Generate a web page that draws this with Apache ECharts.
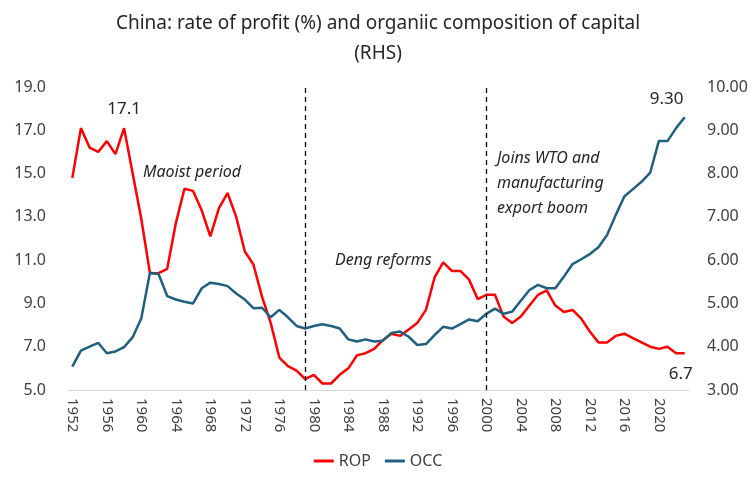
<!DOCTYPE html>
<html>
<head>
<meta charset="utf-8">
<script src="https://cdn.jsdelivr.net/npm/echarts@6/dist/echarts.min.js"></script>
<style>
  html, body { margin: 0; padding: 0; background: #fff; }
  #main { width: 756px; height: 477px; }
</style>
</head>
<body>
<div id="main"></div>
<script>
var years = [];
for (var y = 1952; y <= 2023; y++) years.push(String(y));

// rate of profit (%), left axis
var rop = [
  14.8, 17.1, 16.2, 16.0, 16.5, 15.9, 17.1, 15.0, 12.9, 10.4,
  10.4, 10.6, 12.7, 14.3, 14.2, 13.3, 12.1, 13.4, 14.1, 13.0,
  11.4, 10.8, 9.3, 8.1, 6.5, 6.1, 5.9, 5.5, 5.7, 5.3,
  5.3, 5.7, 6.0, 6.6, 6.7, 6.9, 7.3, 7.6, 7.5, 7.8,
  8.1, 8.7, 10.2, 10.9, 10.5, 10.5, 10.1, 9.2, 9.4, 9.4,
  8.4, 8.1, 8.4, 8.9, 9.4, 9.6, 8.9, 8.6, 8.7, 8.3,
  7.7, 7.2, 7.2, 7.5, 7.6, 7.4, 7.2, 7.0, 6.9, 7.0,
  6.7, 6.7
];

// organic composition of capital, right axis
var occ = [
  3.54, 3.91, 4.00, 4.09, 3.85, 3.89, 3.99, 4.22, 4.66, 5.71,
  5.68, 5.17, 5.09, 5.04, 5.00, 5.35, 5.48, 5.45, 5.40, 5.23,
  5.09, 4.89, 4.90, 4.68, 4.85, 4.68, 4.48, 4.42, 4.48, 4.52,
  4.48, 4.42, 4.17, 4.12, 4.17, 4.12, 4.14, 4.32, 4.35, 4.23,
  4.04, 4.06, 4.27, 4.46, 4.42, 4.52, 4.63, 4.59, 4.76, 4.88,
  4.76, 4.81, 5.06, 5.31, 5.43, 5.35, 5.35, 5.62, 5.91, 6.02,
  6.14, 6.30, 6.58, 7.04, 7.47, 7.64, 7.81, 8.02, 8.75, 8.75,
  9.05, 9.30
];

var eraLines = ['1979', '2000'];

var notes = [
  { text: 'Maoist period', x: 143, y: 160 },
  { text: 'Deng reforms', x: 335, y: 248 },
  { text: 'Joins WTO and\nmanufacturing\nexport boom', x: 497, y: 146 }
];

var chart = echarts.init(document.getElementById('main'));

var ropData = rop.map(function (v, i) {
  if (years[i] === '1958') {
    return { value: v, label: { show: true, position: 'top', distance: 10, formatter: '17.1' } };
  }
  if (i === rop.length - 1) {
    return { value: v, label: { show: true, position: 'bottom', distance: 12, offset: [-4, 0], formatter: '6.7' } };
  }
  return v;
});

var occData = occ.map(function (v, i) {
  if (i === occ.length - 1) {
    return { value: v, label: { show: true, position: 'top', distance: 10, offset: [-18, 0], formatter: '9.30' } };
  }
  return v;
});

var option = {
  backgroundColor: '#fff',
  textStyle: { fontFamily: 'Noto Sans' },
  title: {
    text: 'China: rate of profit (%) and organiic composition of capital\n(RHS)',
    left: 'center',
    top: 4,
    textStyle: { fontSize: 19, fontWeight: 'normal', color: '#262626', lineHeight: 30 }
  },
  legend: {
    bottom: 3,
    left: 'center',
    icon: 'rect',
    itemWidth: 20,
    itemHeight: 3,
    itemGap: 14,
    textStyle: { fontSize: 16, color: '#404040' },
    data: ['ROP', 'OCC']
  },
  grid: { left: 68, right: 67, top: 87, bottom: 87 },
  xAxis: {
    type: 'category',
    data: years,
    boundaryGap: true,
    axisLine: { lineStyle: { color: '#d9d9d9', width: 1 } },
    axisTick: { show: false },
    axisLabel: {
      rotate: -90,
      interval: 3,
      fontSize: 15,
      color: '#404040',
      margin: 8
    }
  },
  yAxis: [
    {
      type: 'value',
      min: 5, max: 19, interval: 2,
      splitLine: { show: false },
      axisLine: { show: false },
      axisTick: { show: false },
      axisLabel: {
        fontSize: 16, color: '#404040', margin: 22,
        formatter: function (v) { return v.toFixed(1); }
      }
    },
    {
      type: 'value',
      min: 3, max: 10, interval: 1,
      splitLine: { show: false },
      axisLine: { show: false },
      axisTick: { show: false },
      axisLabel: {
        fontSize: 16, color: '#404040', margin: 18,
        formatter: function (v) { return v.toFixed(2); }
      }
    }
  ],
  graphic: notes.map(function (n) {
    return {
      type: 'text',
      left: n.x,
      top: n.y,
      style: {
        text: n.text,
        fontSize: 16,
        fontStyle: 'italic',
        fontFamily: 'Noto Sans',
        fill: '#262626',
        lineHeight: 25
      }
    };
  }),
  series: [
    {
      name: 'ROP',
      type: 'line',
      yAxisIndex: 0,
      data: ropData,
      symbol: 'circle',
      symbolSize: 0,
      showSymbol: true,
      itemStyle: { color: '#ff0000' },
      lineStyle: { color: '#ff0000', width: 2.5 },
      label: { fontSize: 17, color: '#262626' },
      markLine: {
        silent: true,
        symbol: 'none',
        label: { show: false },
        lineStyle: { color: '#000', type: [5, 4], width: 1.3 },
        data: eraLines.map(function (y) { return { xAxis: y }; })
      }
    },
    {
      name: 'OCC',
      type: 'line',
      yAxisIndex: 1,
      data: occData,
      symbol: 'circle',
      symbolSize: 0,
      showSymbol: true,
      itemStyle: { color: '#1f6080' },
      lineStyle: { color: '#1f6080', width: 2.5 },
      label: { fontSize: 17, color: '#262626' }
    }
  ]
};

chart.setOption(option);
</script>
</body>
</html>
